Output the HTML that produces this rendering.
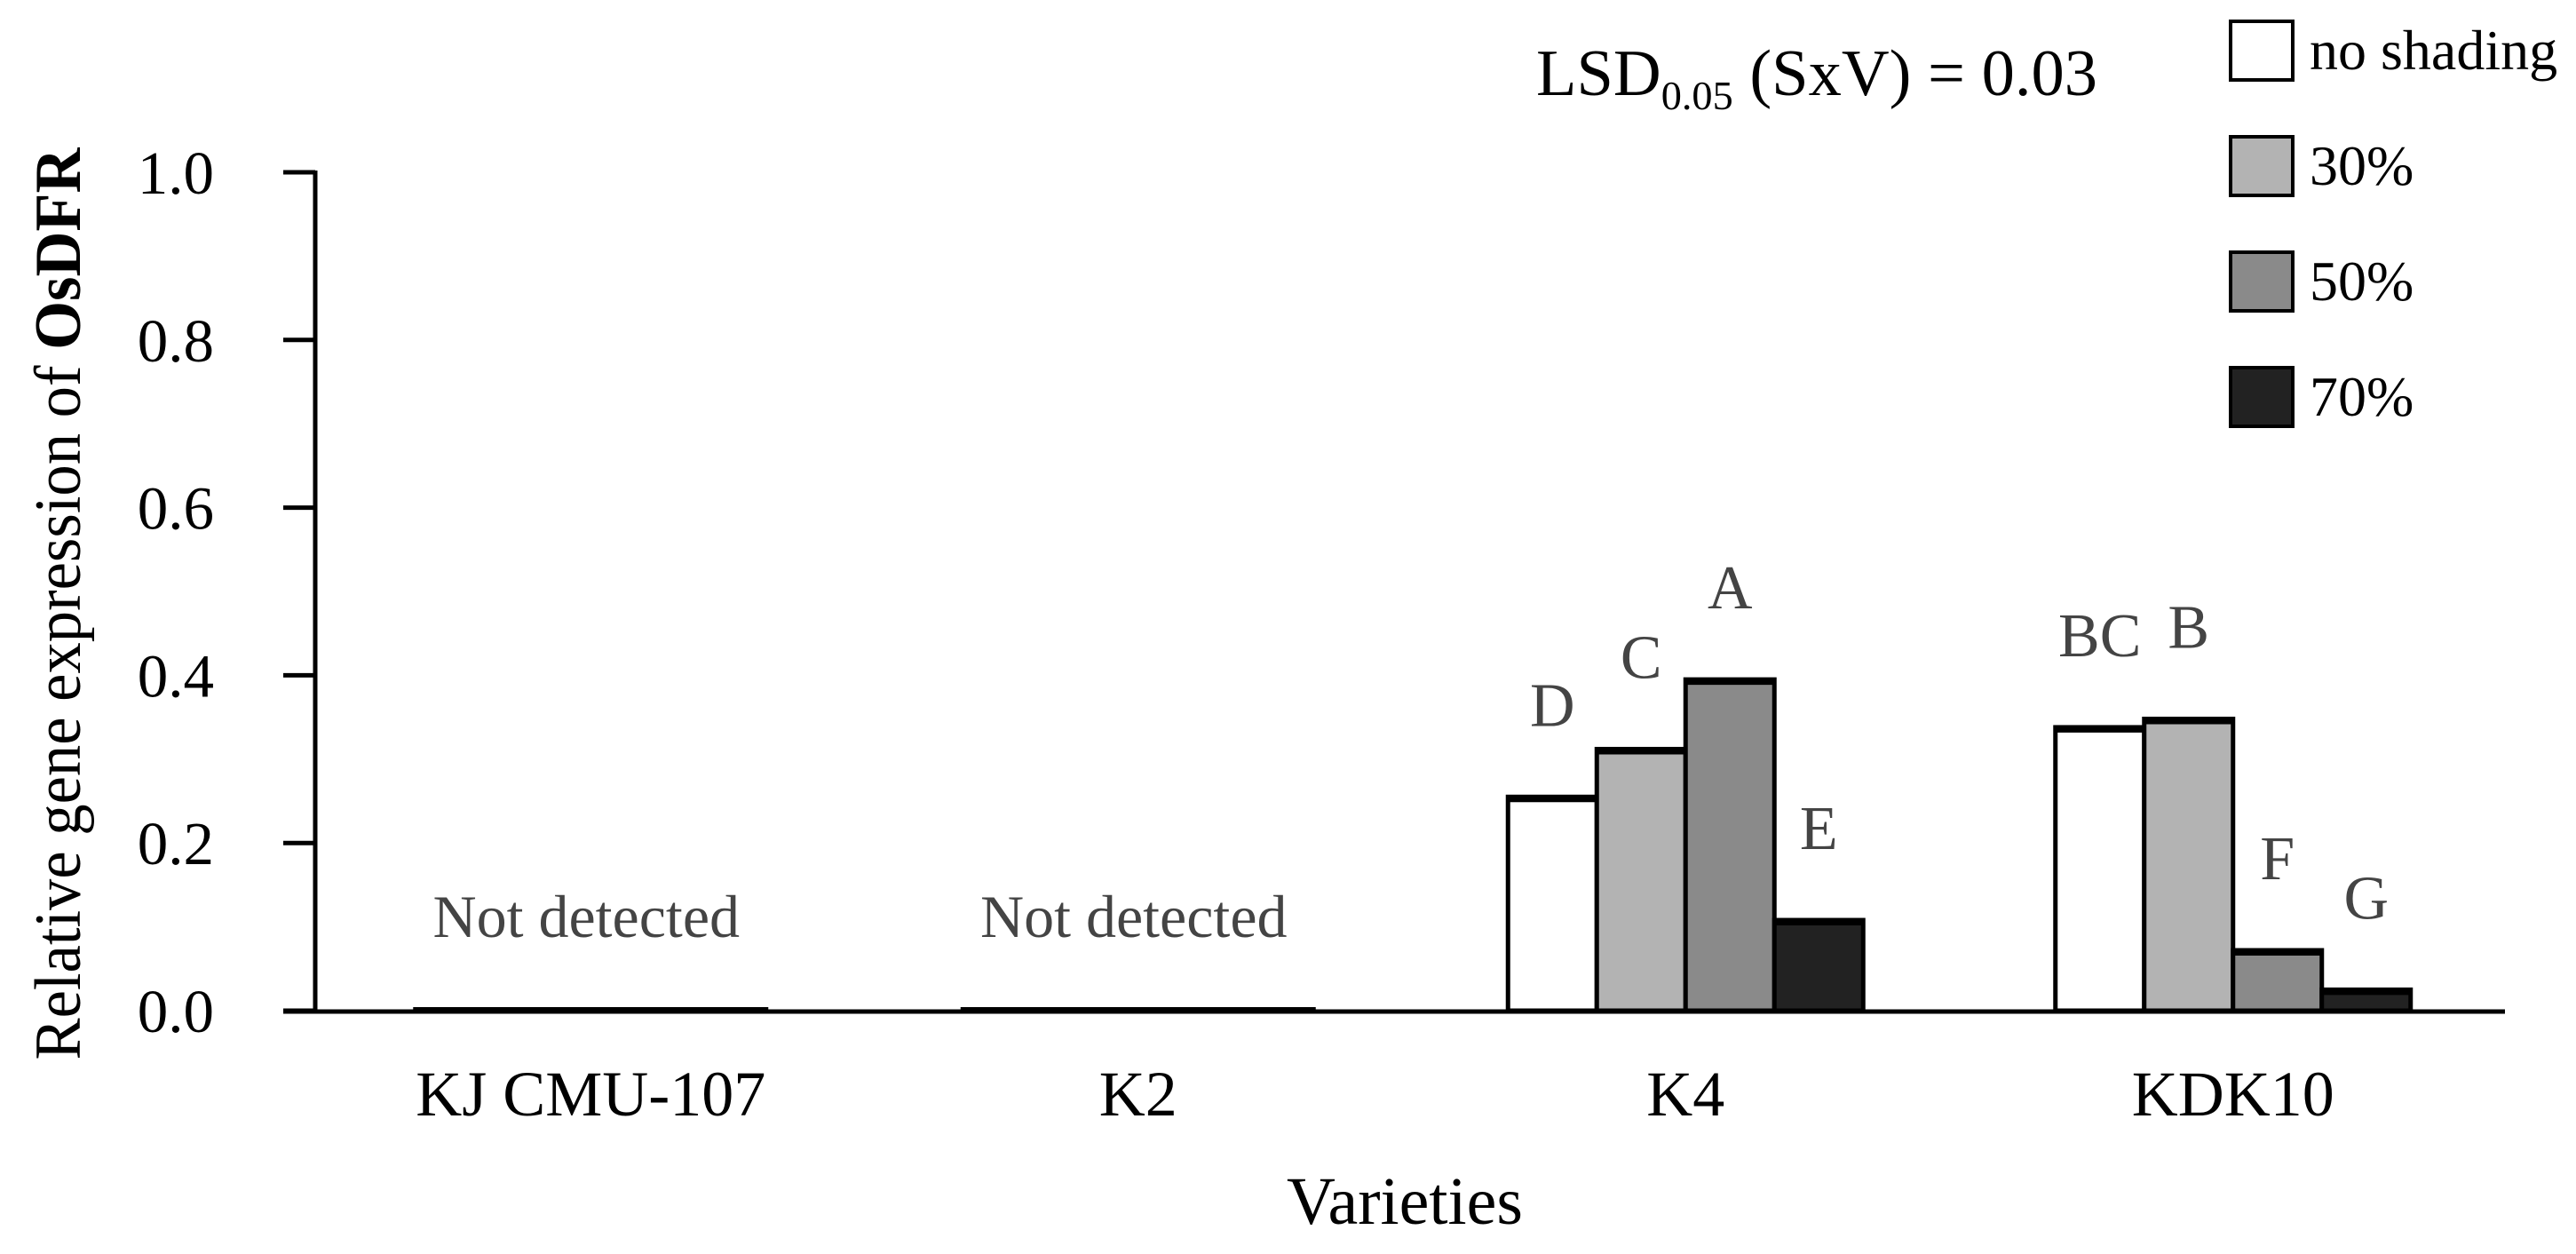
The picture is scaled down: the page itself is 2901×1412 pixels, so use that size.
<!DOCTYPE html>
<html><head><meta charset="utf-8"><style>
html,body{margin:0;padding:0;background:#fff;}
svg text{font-family:"Liberation Serif",serif;}
</style></head><body>
<svg id="chart" width="2901" height="1407" viewBox="0 0 2901 1407" xmlns="http://www.w3.org/2000/svg">
<g id="bars"></g>
<g id="axes"></g>
<g id="legend"></g>
<text x="1730" y="107" font-size="74" fill="#000" textLength="632" lengthAdjust="spacingAndGlyphs">LSD<tspan font-size="46" dy="16">0.05</tspan><tspan dy="-16"> (SxV) = 0.03</tspan></text>
<text transform="translate(90,680) rotate(-90)" text-anchor="middle" font-size="74" textLength="1027" lengthAdjust="spacingAndGlyphs">Relative gene expression of <tspan font-weight="bold">OsDFR</tspan></text>
<text x="1582" y="1378" text-anchor="middle" font-size="76">Varieties</text>
</svg>
<script>
const categories = ["KJ CMU-107","K2","K4","KDK10"];
const seriesNames = ["no shading","30%","50%","70%"];
const noShading = [0, 0, 0.255, 0.338];
const shade30 = [0, 0, 0.312, 0.348];
const shade50 = [0, 0, 0.395, 0.072];
const shade70 = [0, 0, 0.108, 0.025];
const lettersNo = ["", "", "D", "BC"];
const letters30s = ["", "", "C", "B"];
const letters50 = ["", "", "A", "F"];
const letters70 = ["", "", "E", "G"];
const detected = [false, false, true, true];
const yTicks = [0, 0.2, 0.4, 0.6, 0.8, 1.0];
const yTickLabels = ["0.0","0.2","0.4","0.6","0.8","1.0"];

const NS = "http://www.w3.org/2000/svg";
const X0 = 355, X1 = 2821, Y0 = 1138, Y1 = 194;
const fills = ["#ffffff","#b3b3b3","#8a8a8a","#222222"];
const series = [noShading, shade30, shade50, shade70];
const seriesLetters = [lettersNo, letters30s, letters50, letters70];
const groupW = (X1 - X0) / categories.length;
const barW = 100;
function y(v){ return Y0 - (Y0 - Y1) * v; }
function xCenter(i){ return X0 + 2 + groupW * (i + 0.5); }
function mk(tag, attrs, parent){ const e = document.createElementNS(NS, tag); for (const k in attrs) e.setAttribute(k, attrs[k]); parent.appendChild(e); return e; }

const bars = document.getElementById('bars');
categories.forEach((c, i) => {
  const cx = xCenter(i);
  if (!detected[i]) {
    const l = mk('line', {x1: cx - 2*barW, x2: cx + 2*barW, y1: Y0 - 2, y2: Y0 - 2, stroke: '#000', 'stroke-width': 4}, bars);
    
    
    const t = mk('text', {x: cx - 5, y: 1055, 'text-anchor': 'middle', 'font-size': 68, fill: '#444'}, bars);
    t.textContent = 'Not detected';
    
    
    return;
  }
  series.forEach((s, j) => {
    const bx = cx - 2*barW + j*barW;
    const r = mk('rect', {x: bx, y: y(s[i]), width: barW, height: Y0 - y(s[i]), fill: fills[j], stroke: '#000', 'stroke-width': 5}, bars);
    
    
    const tp = mk('line', {x1: bx, x2: bx + barW, y1: y(s[i]) + 2, y2: y(s[i]) + 2, stroke: '#000', 'stroke-width': 8}, bars);
    
    
    const t = mk('text', {x: bx + barW/2, y: y(s[i]) - 80, 'text-anchor': 'middle', 'font-size': 70, fill: '#444'}, bars);
    t.textContent = seriesLetters[j][i];
    
    
  });
});

const axes = document.getElementById('axes');
const ya = mk('line', {x1: X0, x2: X0, y1: Y1 - 2, y2: Y0 + 3, stroke: '#000', 'stroke-width': 5}, axes);


const xa = mk('line', {x1: X0 - 36, x2: X1, y1: Y0 + 1, y2: Y0 + 1, stroke: '#000', 'stroke-width': 5}, axes);


yTicks.forEach((v, k) => {
  const tk = mk('line', {x1: X0 - 36, x2: X0, y1: y(v), y2: y(v), stroke: '#000', 'stroke-width': 5}, axes);
  
  
  const t = mk('text', {x: 241, y: y(v) + 24, 'text-anchor': 'end', 'font-size': 69, fill: '#000'}, axes);
  t.textContent = yTickLabels[k];
  
  
});
categories.forEach((c, i) => {
  const t = mk('text', {x: xCenter(i), y: 1256, 'text-anchor': 'middle', 'font-size': 72, fill: '#000'}, axes);
  t.textContent = c;
  
  
});

const legend = document.getElementById('legend');
seriesNames.forEach((n, j) => {
  const ly = 24 + j*130;
  const r = mk('rect', {x: 2512, y: ly, width: 70, height: 66, fill: fills[j], stroke: '#000', 'stroke-width': 4}, legend);
  
  
  const t = mk('text', {x: 2601, y: ly + 54, 'font-size': 64, fill: '#000'}, legend);
  t.textContent = n;
  
  
});
</script>
</body></html>
